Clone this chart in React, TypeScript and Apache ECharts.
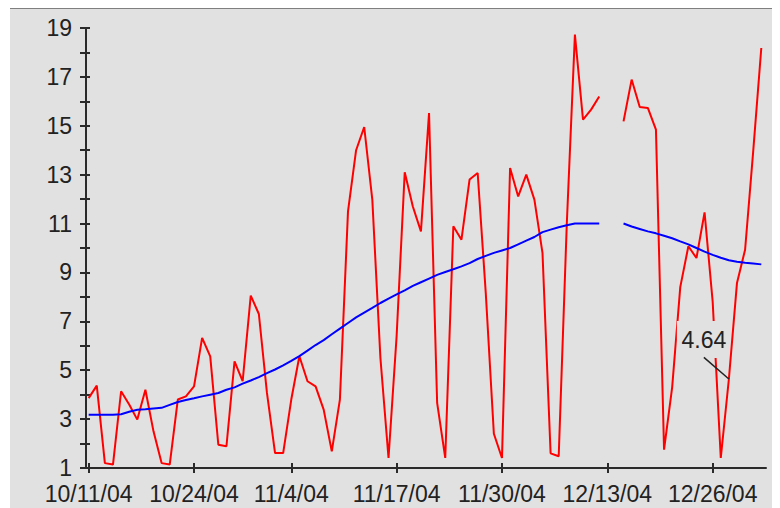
import React, { useEffect, useRef } from 'react';
import * as echarts from 'echarts';

// Daily values, index 0 = 10/11/04
const redValues: (number | null)[] = [
  3.86, 4.37, 1.2, 1.14, 4.14, 3.6, 2.98, 4.2, 2.5, 1.2,
  1.14, 3.8, 3.93, 4.34, 6.32, 5.57, 1.95, 1.89, 5.36, 4.55,
  8.05, 7.3, 4.07, 1.61, 1.61, 3.8, 5.57, 4.55, 4.34, 3.39,
  1.68, 3.8, 11.5, 14.0, 14.95, 11.98, 5.5, 1.41, 6.4, 13.1,
  11.7, 10.68, 15.52, 3.66, 1.41, 10.89, 10.34, 12.8, 13.07, 8.16,
  2.4, 1.41, 13.27, 12.11, 13.0, 11.98, 9.8, 1.6, 1.48, 11.0,
  18.73, 15.25, 15.66, 16.2, null, null, 15.18, 16.89, 15.77, 15.73,
  14.84, 1.75, 4.3, 8.4, 10.07, 9.59, 11.46, 7.8, 1.41, 4.64,
  8.57, 9.93, 13.95, 18.18,
];

const blueValues: (number | null)[] = [
  3.18, 3.18, 3.18, 3.18, 3.2, 3.3, 3.38, 3.4, 3.43, 3.46,
  3.58, 3.7, 3.78, 3.85, 3.93, 4.0, 4.07, 4.2, 4.3, 4.45,
  4.58, 4.72, 4.88, 5.03, 5.2, 5.38, 5.58, 5.8, 6.03, 6.23,
  6.47, 6.7, 6.93, 7.16, 7.36, 7.55, 7.75, 7.93, 8.1, 8.27,
  8.45, 8.6, 8.75, 8.9, 9.02, 9.13, 9.25, 9.38, 9.55, 9.68,
  9.8, 9.9, 10.0, 10.15, 10.3, 10.45, 10.65, 10.75, 10.85, 10.93,
  11.0, 11.0, 11.0, 11.0, null, null, 11.0, 10.88, 10.78, 10.68,
  10.6, 10.5, 10.4, 10.27, 10.15, 10.0, 9.85, 9.72, 9.6, 9.5,
  9.44, 9.4, 9.37, 9.33,
];

const tickDays = [0, 13, 25, 38, 51, 64, 77];
const tickLabels = ['10/11/04', '10/24/04', '11/4/04', '11/17/04', '11/30/04', '12/13/04', '12/26/04'];

const annotatedIndex = 79;
const annotationText = '4.64';

const FONT = "'Liberation Sans', Arial, sans-serif";
const BG = '#e1e1e1';
const AXIS = '#2a2a2a';

export default function App() {
  const ref = useRef<HTMLDivElement>(null);

  useEffect(() => {
    if (!ref.current) return;
    const chart = echarts.init(ref.current, null, { renderer: 'svg' });
    const toPairs = (arr: (number | null)[]) => arr.map((v, i) => [i, v === null ? '-' : v]);

    const labelFor = (v: number) => {
      let best = 0;
      for (let k = 0; k < tickDays.length; k++) {
        if (Math.abs(tickDays[k] - v) < Math.abs(tickDays[best] - v)) best = k;
      }
      return tickLabels[best];
    };

    chart.setOption({
      animation: false,
      backgroundColor: BG,
      grid: { left: 76, top: 19, right: 14, bottom: 40, containLabel: false, outerBoundsMode: 'none' },
      xAxis: [
        {
          type: 'value',
          min: -0.33,
          max: 83.58,
          position: 'bottom',
          splitLine: { show: false },
          axisLine: { show: true, onZero: false, lineStyle: { color: AXIS, width: 2 } },
          axisTick: { show: true, inside: false, length: 5, customValues: tickDays, lineStyle: { color: AXIS, width: 2 } },
          axisLabel: {
            show: true,
            customValues: tickDays,
            formatter: (v: number) => labelFor(v),
            color: '#222',
            fontFamily: FONT,
            fontSize: 23,
            lineHeight: 17,
            margin: 17,
          },
        },
        {
          type: 'value',
          min: -0.33,
          max: 83.58,
          position: 'bottom',
          splitLine: { show: false },
          axisLine: { show: false, onZero: false },
          axisTick: { show: true, inside: true, length: 5, customValues: tickDays, lineStyle: { color: AXIS, width: 2 } },
          axisLabel: { show: false },
        },
      ],
      yAxis: [
        {
          type: 'value',
          min: 1,
          max: 19,
          interval: 1,
          position: 'left',
          splitLine: { show: false },
          axisLine: { show: true, onZero: false, lineStyle: { color: AXIS, width: 2 } },
          axisTick: { show: true, inside: false, length: 6, lineStyle: { color: AXIS, width: 2 } },
          axisLabel: {
            formatter: (v: number) => (Math.round(v) % 2 === 1 ? String(v) : ''),
            color: '#222',
            fontFamily: FONT,
            fontSize: 23,
            lineHeight: 17,
            margin: 14,
          },
        },
        {
          type: 'value',
          min: 1,
          max: 19,
          interval: 1,
          position: 'left',
          splitLine: { show: false },
          axisLine: { show: false, onZero: false },
          axisTick: { show: true, inside: true, length: 4, lineStyle: { color: AXIS, width: 2 } },
          axisLabel: { show: false },
        },
      ],
      series: [
        {
          type: 'line',
          xAxisIndex: 0,
          yAxisIndex: 0,
          data: toPairs(redValues),
          showSymbol: false,
          connectNulls: false,
          lineStyle: { color: '#ff0000', width: 2 },
          itemStyle: { color: '#ff0000' },
          emphasis: { disabled: true },
          z: 2,
        },
        {
          type: 'line',
          xAxisIndex: 0,
          yAxisIndex: 0,
          data: toPairs(blueValues),
          showSymbol: false,
          connectNulls: false,
          lineStyle: { color: '#0000ff', width: 2 },
          itemStyle: { color: '#0000ff' },
          emphasis: { disabled: true },
          z: 3,
        },
      ],
    });

    const pt = chart.convertToPixel({ xAxisIndex: 0, yAxisIndex: 0 }, [annotatedIndex, redValues[annotatedIndex] as number]);
    if (pt) {
      const [px, py] = pt as number[];
      chart.setOption({
        graphic: [
          { type: 'rect', shape: { x: px - 52, y: py - 58, width: 49, height: 37 }, style: { fill: BG }, z: 100 },
          {
            type: 'text',
            x: px - 25,
            y: py - 39,
            style: { text: annotationText, font: `23px ${FONT}`, fill: '#222', align: 'center', verticalAlign: 'middle' },
            z: 101,
          },
          { type: 'line', shape: { x1: px - 25, y1: py - 21.7, x2: px, y2: py }, style: { stroke: '#222', lineWidth: 1.5 }, z: 101 },
        ],
      });
    }

    return () => chart.dispose();
  }, []);

  return (
    <div style={{ marginLeft: 2, borderTop: '1px solid #7f7f7f', width: 770, height: 499, background: BG }}>
      <div ref={ref} style={{ width: 770, height: 499 }} />
    </div>
  );
}
